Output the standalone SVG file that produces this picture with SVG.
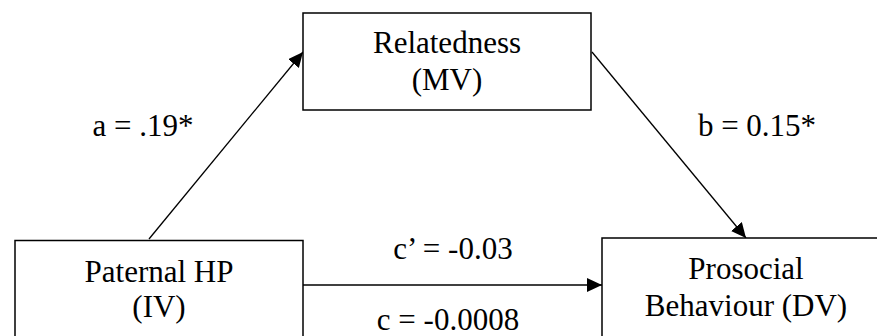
<svg xmlns="http://www.w3.org/2000/svg" width="877" height="336" viewBox="0 0 877 336">
  <style>
    .box { fill: #ffffff; stroke: #000000; stroke-width: 1.5; }
    .lbl { font-family: "Liberation Serif", "Times New Roman", serif; font-size: 31px; fill: #000000; text-anchor: middle; }
    .edge { stroke: #000000; stroke-width: 1.3; fill: none; marker-end: url(#arrow); }
  </style>
  <defs>
    <marker id="arrow" markerUnits="userSpaceOnUse" markerWidth="16" markerHeight="15" refX="15" refY="7" orient="auto">
      <path d="M0,0 L15,7 L0,14 Z" fill="#000000"/>
    </marker>
  </defs>
  <rect width="877" height="336" fill="#ffffff"/>
  <g id="connectors">
    <line class="edge" x1="149" y1="239" x2="303" y2="52"/>
    <line class="edge" x1="592" y1="52" x2="746" y2="238"/>
    <line class="edge" x1="303" y1="285" x2="602" y2="285"/>
    <text class="lbl" x="143" y="136">a = .19*</text>
    <text class="lbl" x="757" y="136">b = 0.15*</text>
    <text class="lbl" x="453" y="259">c’ = -0.03</text>
    <text class="lbl" x="448" y="330">c = -0.0008</text>
  </g>
  <g id="node-relatedness">
    <rect class="box" x="303" y="13" width="288" height="97"/>
    <text class="lbl" x="447" y="53">Relatedness</text>
    <text class="lbl" x="447" y="90">(MV)</text>
  </g>
  <g id="node-paternal">
    <rect class="box" x="15" y="240.5" width="288" height="110"/>
    <text class="lbl" x="159" y="282">Paternal HP</text>
    <text class="lbl" x="159" y="317">(IV)</text>
  </g>
  <g id="node-prosocial">
    <rect class="box" x="602" y="238" width="290" height="110"/>
    <text class="lbl" x="746" y="279">Prosocial</text>
    <text class="lbl" x="746" y="316">Behaviour (DV)</text>
  </g>
</svg>
